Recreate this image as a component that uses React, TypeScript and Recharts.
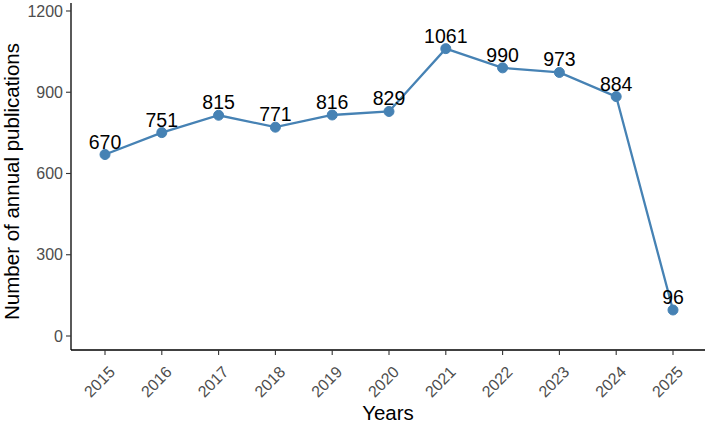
import React from 'react';
import { LineChart, Line, XAxis, YAxis, LabelList, Label } from 'recharts';

const years = ['2015', '2016', '2017', '2018', '2019', '2020', '2021', '2022', '2023', '2024', '2025'];
const publications = [670, 751, 815, 771, 816, 829, 1061, 990, 973, 884, 96];
const yTicks = [0, 300, 600, 900, 1200];

const data = years.map((y, i) => ({ year: y, value: publications[i] }));

const FONT = 'Arial, "Liberation Sans", sans-serif';
const BLUE = '#4682B4';

const XTick = (props: any) => {
  const { x, y, payload } = props;
  return (
    <g transform={`translate(${x + 11},${y + 18})`}>
      <text x={0} y={0} transform="rotate(-45)" textAnchor="end" fill="#4D4D4D" fontSize={16} fontFamily={FONT}>
        {payload.value}
      </text>
    </g>
  );
};

const YTitle = (props: any) => {
  const vb = props.viewBox;
  const cy = vb.y + vb.height / 2 + 5;
  const cx = 18.5;
  return (
    <text x={cx} y={cy} transform={`rotate(-90, ${cx}, ${cy})`} textAnchor="middle" fill="#000" fontSize={20.5} fontFamily={FONT}>
      Number of annual publications
    </text>
  );
};

const XTitle = (props: any) => {
  const vb = props.viewBox;
  return (
    <text x={vb.x + vb.width / 2} y={vb.y + 70} textAnchor="middle" fill="#000" fontSize={20.5} fontFamily={FONT}>
      Years
    </text>
  );
};

export default function App() {
  return (
    <div style={{ position: 'absolute', left: 0, top: 0, width: 709, height: 423, background: '#fff' }}>
      <LineChart width={709} height={423} data={data} margin={{ top: 3, right: 4, bottom: 0, left: 0 }}>
        <XAxis
          dataKey="year"
          type="category"
          height={73}
          padding={{ left: 34, right: 32 }}
          tick={<XTick />}
          tickSize={5}
          tickMargin={0}
          interval={0}
          axisLine={{ stroke: '#000', strokeWidth: 1.3 }}
          tickLine={{ stroke: '#333', strokeWidth: 1.1 }}
        >
          <Label content={<XTitle />} />
        </XAxis>
        <YAxis
          width={71}
          type="number"
          domain={[-51.7, 1229.5]}
          ticks={yTicks}
          allowDataOverflow
          interval={0}
          tickSize={5}
          tickMargin={3}
          tick={{ fill: '#4D4D4D', fontSize: 16, fontFamily: FONT }}
          axisLine={{ stroke: '#000', strokeWidth: 1.3 }}
          tickLine={{ stroke: '#333', strokeWidth: 1.1 }}
        >
          <Label content={<YTitle />} />
        </YAxis>
        <Line
          type="linear"
          dataKey="value"
          stroke={BLUE}
          strokeWidth={2.3}
          dot={{ r: 5, fill: BLUE, stroke: BLUE, strokeWidth: 1 }}
          activeDot={false}
          isAnimationActive={false}
        >
          <LabelList dataKey="value" position="top" offset={6} fill="#000" fontSize={19.5} fontFamily={FONT} />
        </Line>
      </LineChart>
    </div>
  );
}
